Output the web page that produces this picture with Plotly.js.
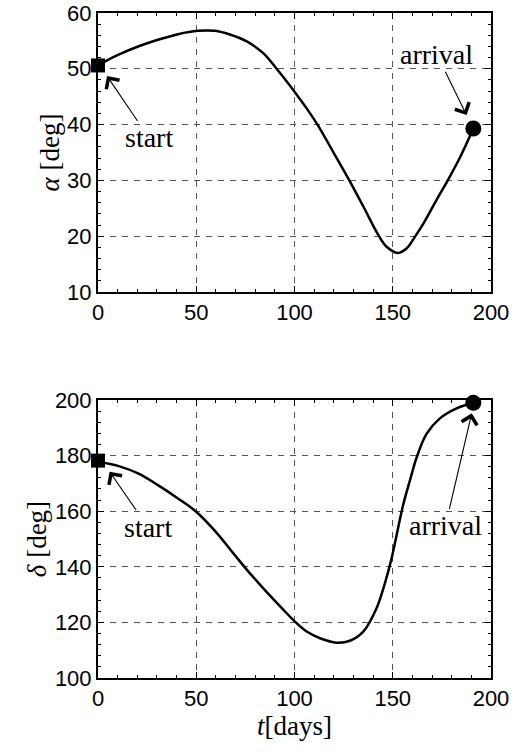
<!DOCTYPE html>
<html>
<head>
<meta charset="utf-8">
<script src="https://cdn.plot.ly/plotly-3.0.1.min.js"></script>
<style>html,body{margin:0;padding:0;background:#fff;}#chart{width:512px;height:753px;}</style>
</head>
<body>
<div id="chart"></div>
<script>
// Top panel: alpha [deg] vs t [days]
const tAlpha = [0, 3.4, 10.2, 20.4, 30.5, 40.7, 50.9, 59.4, 67.5, 75.7, 84.1, 90.9, 100, 106, 111.7, 120, 127.9, 135.5, 143, 146.9, 152.5, 157, 161.5, 165.5, 172.3, 177.5, 184.2, 191];
const alpha  = [50.6, 51.3, 52.5, 54.0, 55.2, 56.2, 56.8, 56.8, 56.1, 54.9, 52.8, 50.0, 45.9, 43.0, 40.0, 34.9, 30.0, 25.0, 20.0, 18.1, 17.0, 17.8, 20.0, 22.2, 26.5, 29.7, 34.1, 39.3];
// Bottom panel: delta [deg] vs t [days]
const tDelta = [0, 3.4, 10.2, 20.4, 30.5, 40.7, 50, 59.4, 67.8, 75.7, 82.4, 89.2, 94.3, 100.2, 106.2, 113, 121.4, 128.2, 135, 141.8, 146.1, 149.5, 152, 155.4, 158.8, 162.2, 167.2, 174, 182.5, 191];
const delta  = [178.2, 177.4, 176.3, 173.6, 169.4, 164.6, 159.8, 153.0, 145.8, 139.0, 133.6, 128.4, 124.6, 120.3, 116.7, 114.3, 112.7, 113.4, 116.7, 125.2, 134.3, 143.3, 151.5, 162.6, 171.2, 179.4, 187.8, 193.4, 197, 199];

const xTicks = [0, 50, 100, 150, 200];
const alphaTicks = [10, 20, 30, 40, 50, 60];
const deltaTicks = [100, 120, 140, 160, 180, 200];
const labelStart = 'start';
const labelArrival = 'arrival';

const last = a => a[a.length - 1];

const lineStyle = {color: '#000', width: 2.5, shape: 'spline'};
const traces = [
  {x: tAlpha, y: alpha, mode: 'lines', line: lineStyle, xaxis: 'x', yaxis: 'y', hoverinfo: 'skip'},
  {x: [tAlpha[0]], y: [alpha[0]], mode: 'markers', marker: {symbol: 'square', size: 14, color: '#000'}, xaxis: 'x', yaxis: 'y', cliponaxis: false},
  {x: [last(tAlpha)], y: [last(alpha)], mode: 'markers', marker: {symbol: 'circle', size: 16, color: '#000'}, xaxis: 'x', yaxis: 'y', cliponaxis: false},
  {x: tDelta, y: delta, mode: 'lines', line: lineStyle, xaxis: 'x2', yaxis: 'y2', hoverinfo: 'skip'},
  {x: [tDelta[0]], y: [delta[0]], mode: 'markers', marker: {symbol: 'square', size: 14, color: '#000'}, xaxis: 'x2', yaxis: 'y2', cliponaxis: false},
  {x: [last(tDelta)], y: [last(delta)], mode: 'markers', marker: {symbol: 'circle', size: 16, color: '#000'}, xaxis: 'x2', yaxis: 'y2', cliponaxis: false}
];

const serif = '"Liberation Serif", "Times New Roman", serif';
const tickFont = {family: '"Liberation Sans", Arial, sans-serif', size: 22, color: '#000'};
const titleFont = {family: serif, size: 27, color: '#000'};
const gridStyle = {showgrid: true, gridcolor: '#555', gridwidth: 1, griddash: '6px,6px'};

function xAxis(anchor) {
  return Object.assign({
    range: [0, 200], tickvals: xTicks, ticks: 'inside', ticklen: 6, tickwidth: 1, tickcolor: '#000',
    showline: true, linecolor: '#000', linewidth: 2, mirror: 'allticks', zeroline: false,
    tickfont: tickFont, anchor: anchor, fixedrange: true,
    minor: {dtick: 10, ticks: 'inside', ticklen: 3, tickcolor: '#000', tickwidth: 1, showgrid: false}
  }, gridStyle);
}
function yAxis(anchor, range, vals, minorStep, domain, title) {
  return Object.assign({
    range: range, tickvals: vals, ticks: 'inside', ticklen: 6, tickwidth: 1, tickcolor: '#000',
    showline: true, linecolor: '#000', linewidth: 2, mirror: 'allticks', zeroline: false,
    tickfont: tickFont, anchor: anchor, domain: domain, fixedrange: true,
    minor: {dtick: minorStep, ticks: 'inside', ticklen: 3, tickcolor: '#000', tickwidth: 1, showgrid: false},
    title: {text: title, font: titleFont, standoff: 0}
  }, gridStyle);
}

const annFont = {family: serif, size: 28, color: '#000'};
function ann(xref, yref, x, y, ax, ay, text) {
  return {xref: xref, yref: yref, axref: xref, ayref: yref, x: x, y: y, ax: ax, ay: ay,
    text: text, showarrow: true, arrowhead: 4, arrowsize: 2.8, arrowwidth: 1.1, arrowcolor: '#000',
    standoff: 0, font: annFont};
}

const layout = {
  width: 512, height: 753,
  margin: {l: 98, r: 21, t: 13, b: 75},
  paper_bgcolor: '#fff', plot_bgcolor: '#fff',
  showlegend: false,
  xaxis: xAxis('y'),
  yaxis: yAxis('x', [10, 60], alphaTicks, 2, [0.5805, 1], '<i>α</i> [deg]'),
  xaxis2: Object.assign(xAxis('y2'), {title: {text: '<i>t</i>[days]', font: titleFont, standoff: 4}}),
  yaxis2: yAxis('x2', [100, 200], deltaTicks, 4, [0, 0.418], '<i>δ</i> [deg]'),
  annotations: [
    ann('x', 'y', 4.6, 48.7, 26, 37.6, labelStart),
    ann('x', 'y', 187.6, 41.7, 172.5, 52.5, labelArrival),
    ann('x2', 'y2', 5.9, 174.2, 25.4, 154.3, labelStart),
    ann('x2', 'y2', 190.2, 195.2, 176.8, 154.7, labelArrival)
  ]
};

Plotly.newPlot('chart', traces, layout, {displayModeBar: false, staticPlot: true});
</script>
</body>
</html>
